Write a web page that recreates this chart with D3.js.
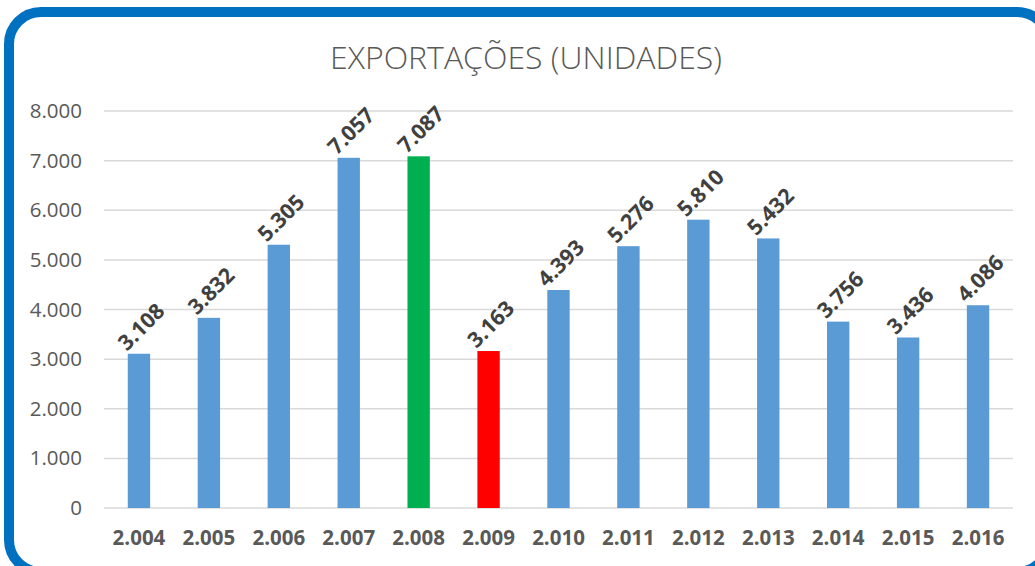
<!DOCTYPE html>
<html>
<head>
<meta charset="utf-8">
<script src="https://cdn.jsdelivr.net/npm/d3@7"></script>
<style>
  body { margin: 0; background: #fff; }
  text { font-family: "Open Sans", "Noto Sans", sans-serif; }
</style>
</head>
<body>
<div id="chart"></div>
<script>
const years = ["2.004", "2.005", "2.006", "2.007", "2.008", "2.009", "2.010", "2.011", "2.012", "2.013", "2.014", "2.015", "2.016"];
const exports = [3108, 3832, 5305, 7057, 7087, 3163, 4393, 5276, 5810, 5432, 3756, 3436, 4086];
const barColors = ["#5B9BD5", "#5B9BD5", "#5B9BD5", "#5B9BD5", "#00B050", "#FF0000", "#5B9BD5", "#5B9BD5", "#5B9BD5", "#5B9BD5", "#5B9BD5", "#5B9BD5", "#5B9BD5"];
const yTicks = [0, 1000, 2000, 3000, 4000, 5000, 6000, 7000, 8000];

const svgWidth = 1035, svgHeight = 566;
const svg = d3.select("#chart").append("svg")
    .attr("width", svgWidth).attr("height", svgHeight);

// blue rounded frame
svg.append("rect")
    .attr("x", 9).attr("y", 12)
    .attr("width", 1040).attr("height", 560)
    .attr("rx", 32).attr("ry", 32)
    .attr("fill", "#fff")
    .attr("stroke", "#0070C0")
    .attr("stroke-width", 10);

const margin = {top: 111, right: 22, bottom: 58, left: 104},
      width = svgWidth - margin.left - margin.right,
      height = svgHeight - margin.top - margin.bottom;

const fmt = v => d3.format(",")(v).replace(/,/g, ".");

svg.append("text")
    .attr("x", 526).attr("y", 69)
    .attr("text-anchor", "middle")
    .attr("font-size", 32)
    .attr("font-weight", 300)
    .attr("fill", "#595959")
    .text("EXPORTAÇÕES (UNIDADES)");

const g = svg.append("g")
    .attr("transform", "translate(" + margin.left + "," + margin.top + ")");

const x = d3.scaleBand()
    .domain(years)
    .range([0, width])
    .paddingInner(0.68)
    .paddingOuter(0.34);

const y = d3.scaleLinear()
    .domain([0, 8000])
    .range([height, 0]);

// gridlines
g.append("g")
    .selectAll("line")
    .data(yTicks)
    .join("line")
    .attr("x1", 0).attr("x2", width)
    .attr("y1", d => y(d)).attr("y2", d => y(d))
    .attr("stroke", "#d9d9d9")
    .attr("stroke-width", 1.5);

// y axis labels
const yAxis = g.append("g")
    .call(d3.axisLeft(y).tickValues(yTicks).tickFormat(d => d === 0 ? "0" : fmt(d)).tickSize(0).tickPadding(22));
yAxis.select(".domain").remove();
yAxis.selectAll("text")
    .attr("font-size", 20.5)
    .attr("fill", "#595959")
    .attr("font-family", "Open Sans, sans-serif");

// x axis labels
const xAxis = g.append("g")
    .attr("transform", "translate(0," + height + ")")
    .call(d3.axisBottom(x).tickSize(0).tickPadding(22));
xAxis.select(".domain").remove();
xAxis.selectAll("text")
    .attr("font-size", 20.5)
    .attr("font-weight", "bold")
    .attr("fill", "#595959")
    .attr("font-family", "Open Sans, sans-serif");

// bars
g.append("g")
    .selectAll("rect")
    .data(exports)
    .join("rect")
    .attr("x", (d, i) => x(years[i]))
    .attr("y", d => y(d))
    .attr("width", x.bandwidth())
    .attr("height", d => height - y(d))
    .attr("fill", (d, i) => barColors[i]);

// data labels
g.append("g")
    .selectAll("text")
    .data(exports)
    .join("text")
    .attr("transform", (d, i) => "translate(" + (x(years[i]) + x.bandwidth() / 2 - 12) + "," + (y(d) - 2) + ") rotate(-45)")
    .attr("font-size", 21.5)
    .attr("font-weight", "bold")
    .attr("fill", "#404040")
    .text(d => fmt(d));
</script>
</body>
</html>
